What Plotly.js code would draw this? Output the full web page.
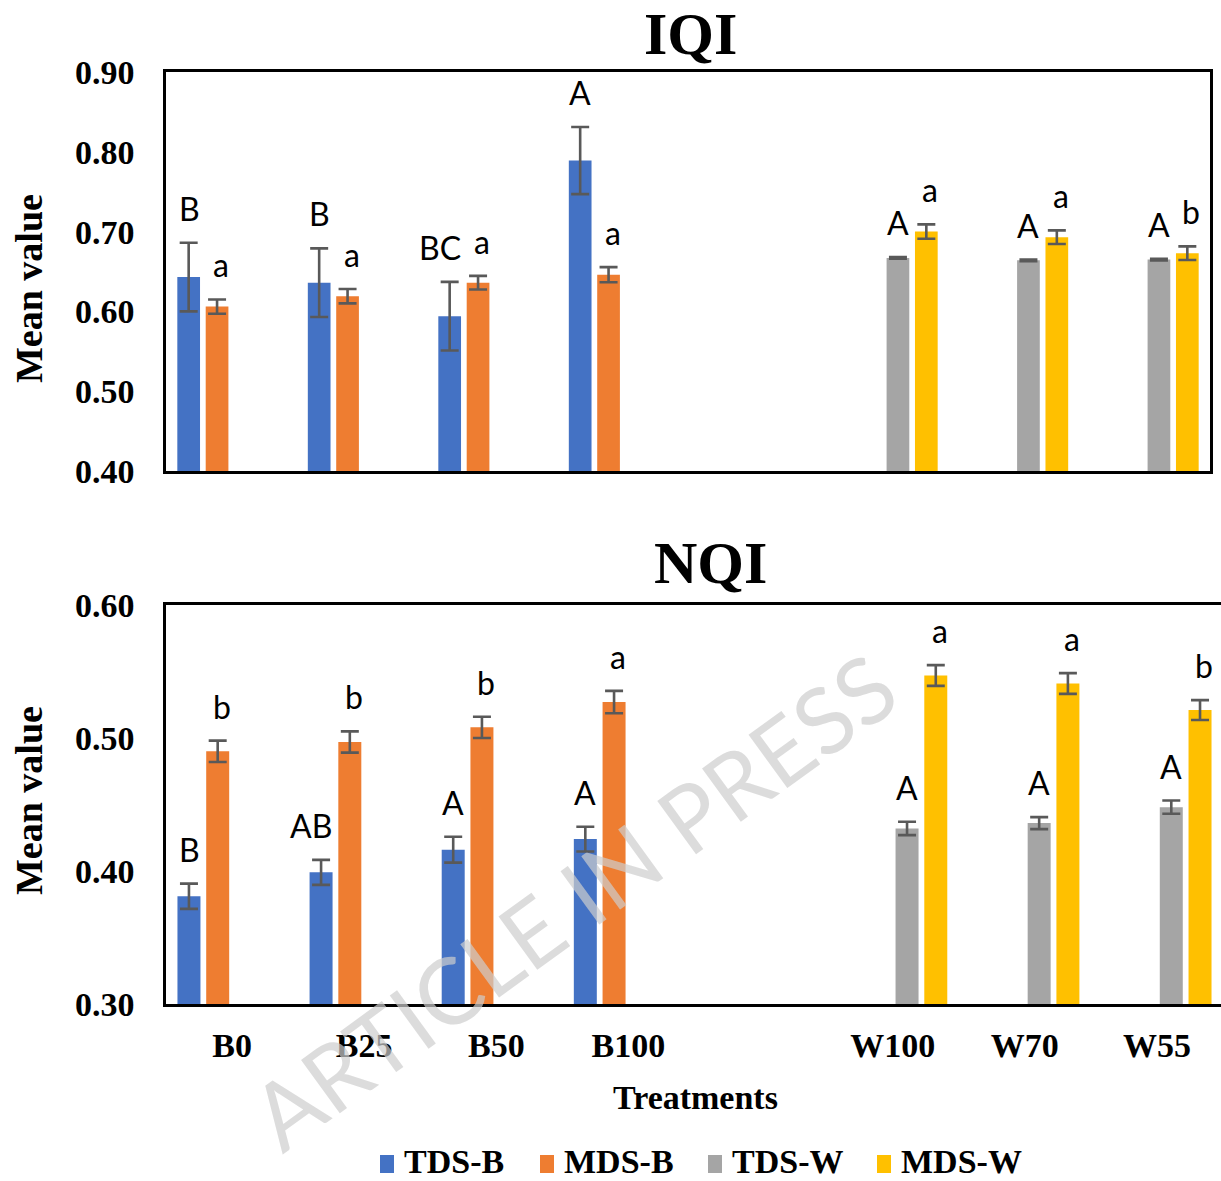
<!DOCTYPE html>
<html>
<head>
<meta charset="utf-8">
<script src="https://cdn.plot.ly/plotly-3.0.1.min.js"></script>
<style>html,body{margin:0;padding:0;background:#fff;overflow:hidden;}#chart{width:1221px;height:1181px;}</style>
</head>
<body>
<div id="chart"></div>
<script>
// ---------------- data ----------------
const categories = ['B0', 'B25', 'B50', 'B100', ' ', 'W100', 'W70', 'W55'];
const seriesNames = ['TDS-B', 'MDS-B', 'TDS-W', 'MDS-W'];

// IQI
const iqiTDSB = [0.643, 0.636, 0.594, 0.789, null, null, null, null];
const iqiTDSBerr = [0.043, 0.043, 0.043, 0.042, null, null, null, null];
const iqiMDSB = [0.606, 0.619, 0.636, 0.646, null, null, null, null];
const iqiMDSBerr = [0.009, 0.009, 0.0085, 0.0095, null, null, null, null];
const iqiTDSW = [null, null, null, null, null, 0.667, 0.664, 0.665];
const iqiTDSWerr = [null, null, null, null, null, 0.001, 0.001, 0.001];
const iqiMDSW = [null, null, null, null, null, 0.700, 0.693, 0.673];
const iqiMDSWerr = [null, null, null, null, null, 0.009, 0.0085, 0.0085];
const iqiLetTDSB = ['B', 'B', 'BC', 'A', null, null, null, null];
const iqiLetMDSB = ['a', 'a', 'a', 'a', null, null, null, null];
const iqiLetTDSW = [null, null, null, null, null, 'A', 'A', 'A'];
const iqiLetMDSW = [null, null, null, null, null, 'a', 'a', 'b'];

// NQI
const nqiTDSB = [0.381, 0.399, 0.416, 0.424, null, null, null, null];
const nqiTDSBerr = [0.0095, 0.0094, 0.0097, 0.0093, null, null, null, null];
const nqiMDSB = [0.490, 0.497, 0.508, 0.527, null, null, null, null];
const nqiMDSBerr = [0.008, 0.008, 0.008, 0.0084, null, null, null, null];
const nqiTDSW = [null, null, null, null, null, 0.432, 0.436, 0.448];
const nqiTDSWerr = [null, null, null, null, null, 0.005, 0.0045, 0.005];
const nqiMDSW = [null, null, null, null, null, 0.547, 0.541, 0.521];
const nqiMDSWerr = [null, null, null, null, null, 0.0078, 0.0078, 0.0075];
const nqiLetTDSB = ['B', 'AB', 'A', 'A', null, null, null, null];
const nqiLetMDSB = ['b', 'b', 'b', 'a', null, null, null, null];
const nqiLetTDSW = [null, null, null, null, null, 'A', 'A', 'A'];
const nqiLetMDSW = [null, null, null, null, null, 'a', 'a', 'b'];

const iqiTicks = [0.4, 0.5, 0.6, 0.7, 0.8, 0.9];
const nqiTicks = [0.3, 0.4, 0.5, 0.6];

// ---------------- style ----------------
const W = 1221, H = 1181;
const colors = ['#4472C4', '#EE7D31', '#A5A5A5', '#FFC000'];
const serif = 'Liberation Serif, Times New Roman, serif';
const sans = 'Lato, Carlito, Calibri, sans-serif';
const bargap = 0.13, bargroupgap = 0.2;
const topX = [166, 1210], topY = [72, 471];
const botX = [166, 1221], botY = [605, 1004];
const botRange = [-0.5, 7.485];
const legendLeft = [380, 540, 708, 877];   // swatch left edges (px)
const legendSwatchY = 1164;
const legendTextY = 1161;

function px(x) { return x / W; }
function py(y) { return 1 - y / H; }

const panels = [
  {xa: 'x', ya: 'y', vals: [iqiTDSB, iqiMDSB, iqiTDSW, iqiMDSW],
   errs: [iqiTDSBerr, iqiMDSBerr, iqiTDSWerr, iqiMDSWerr],
   lets: [iqiLetTDSB, iqiLetMDSB, iqiLetTDSW, iqiLetMDSW],
   catPx: (topX[1] - topX[0]) / 8},
  {xa: 'x2', ya: 'y2', vals: [nqiTDSB, nqiMDSB, nqiTDSW, nqiMDSW],
   errs: [nqiTDSBerr, nqiMDSBerr, nqiTDSWerr, nqiMDSWerr],
   lets: [nqiLetTDSB, nqiLetMDSB, nqiLetTDSW, nqiLetMDSW],
   catPx: (botX[1] - botX[0]) / (botRange[1] - botRange[0])}
];

const traces = [];
const annotations = [];
const shapes = [];
panels.forEach((p, pi) => {
  p.vals.forEach((v, k) => {
    traces.push({
      type: 'bar', x: categories, y: v, name: seriesNames[k],
      xaxis: p.xa, yaxis: p.ya, showlegend: false,
      marker: {color: colors[k], line: {width: 0}},
      error_y: {type: 'data', array: p.errs[k], visible: true, color: '#595959', thickness: 2.6, width: 9},
      hoverinfo: 'skip'
    });
    const slot = p.catPx * (1 - bargap) / 4;
    const off = (k - 1.5) * slot;
    v.forEach((val, i) => {
      const t = p.lets[k][i];
      if (val === null || !t) return;
      const isT = (k % 2 === 0);
      annotations.push({
        xref: p.xa, yref: p.ya, x: categories[i], y: val + p.errs[k][i],
        text: t, showarrow: false, yanchor: 'bottom',
        xanchor: isT ? 'right' : 'center',
        xshift: isT ? off + 13 : off + 4, yshift: 13,
        font: {family: sans, size: 32, color: '#000'}
      });
    });
  });
});

// legend (swatch + label per series)
seriesNames.forEach((name, k) => {
  shapes.push({type: 'rect', xref: 'paper', yref: 'paper',
    x0: px(legendLeft[k]), x1: px(legendLeft[k] + 14),
    y0: py(legendSwatchY + 9), y1: py(legendSwatchY - 9),
    fillcolor: colors[k], line: {width: 0}});
  annotations.push({xref: 'paper', yref: 'paper', x: px(legendLeft[k] + 22), y: py(legendTextY),
    text: '<b>' + name + '</b>', showarrow: false, xanchor: 'left', yanchor: 'middle',
    font: {family: serif, size: 34, color: '#000'}});
});

// titles and axis titles
annotations.push(
  {xref: 'paper', yref: 'paper', x: px(690), y: py(34), text: '<b>IQI</b>', showarrow: false,
   xanchor: 'center', yanchor: 'middle', font: {family: serif, size: 60, color: '#000'}},
  {xref: 'paper', yref: 'paper', x: px(710), y: py(563), text: '<b>NQI</b>', showarrow: false,
   xanchor: 'center', yanchor: 'middle', font: {family: serif, size: 60, color: '#000'}},
  {xref: 'paper', yref: 'paper', x: px(29), y: py(289), text: '<b>Mean value</b>', showarrow: false,
   textangle: -90, xanchor: 'center', yanchor: 'middle', font: {family: serif, size: 38, color: '#000'}},
  {xref: 'paper', yref: 'paper', x: px(29), y: py(801), text: '<b>Mean value</b>', showarrow: false,
   textangle: -90, xanchor: 'center', yanchor: 'middle', font: {family: serif, size: 38, color: '#000'}},
  {xref: 'paper', yref: 'paper', x: px(695), y: py(1097), text: '<b>Treatments</b>', showarrow: false,
   xanchor: 'center', yanchor: 'middle', font: {family: serif, size: 34, color: '#000'}},
  {xref: 'paper', yref: 'paper', x: px(572), y: py(900), text: 'ARTICLE IN PRESS', showarrow: false,
   textangle: -36, xanchor: 'center', yanchor: 'middle',
   font: {family: sans, size: 92, color: 'rgba(205,205,205,0.7)'}}
);

const axisFont = {family: serif, size: 34, color: '#000', weight: 'bold'};

const layout = {
  width: W, height: H,
  margin: {l: 0, r: 0, t: 0, b: 0, pad: 0, autoexpand: false},
  paper_bgcolor: '#fff', plot_bgcolor: '#fff',
  barmode: 'group', bargap: bargap, bargroupgap: bargroupgap,
  showlegend: false,
  xaxis: {domain: [px(topX[0]), px(topX[1])], anchor: 'y', type: 'category', range: [-0.5, 7.5],
    showticklabels: false, ticks: '', showgrid: false, zeroline: false,
    showline: true, mirror: true, linecolor: '#000', linewidth: 2.6, fixedrange: true},
  yaxis: {domain: [py(topY[1]), py(topY[0])], anchor: 'x', range: [0.4, 0.9],
    tickvals: iqiTicks, tickformat: '.2f', ticks: '', ticklabelstandoff: 22,
    tickfont: axisFont, showgrid: false, zeroline: false,
    showline: true, mirror: true, linecolor: '#000', linewidth: 2.6, fixedrange: true},
  xaxis2: {domain: [px(botX[0]), px(botX[1])], anchor: 'y2', type: 'category', range: botRange,
    ticks: '', ticklabelstandoff: 10, tickfont: axisFont, showgrid: false, zeroline: false,
    showline: true, mirror: true, linecolor: '#000', linewidth: 2.6, fixedrange: true},
  yaxis2: {domain: [py(botY[1]), py(botY[0])], anchor: 'x2', range: [0.3, 0.6],
    tickvals: nqiTicks, tickformat: '.2f', ticks: '', ticklabelstandoff: 22,
    tickfont: axisFont, showgrid: false, zeroline: false,
    showline: true, mirror: false, linecolor: '#000', linewidth: 2.6, fixedrange: true},
  shapes: shapes,
  annotations: annotations
};

Plotly.newPlot('chart', traces, layout, {displayModeBar: false, staticPlot: true});
</script>
</body>
</html>
